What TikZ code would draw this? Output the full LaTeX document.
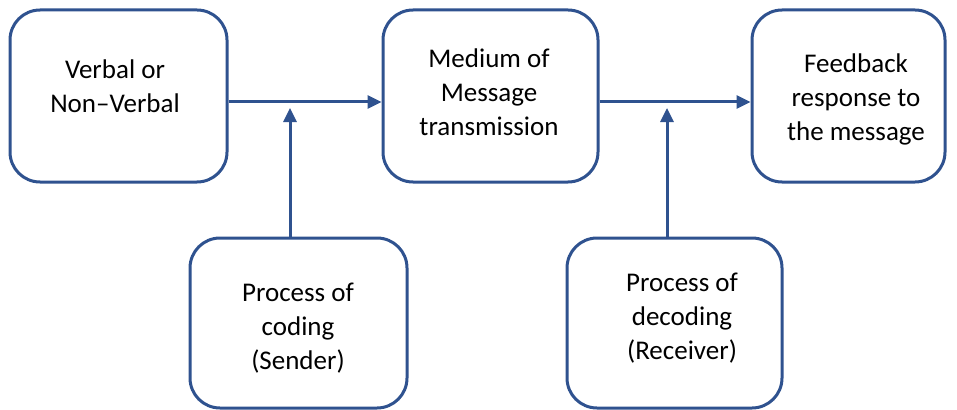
\documentclass[tikz,border=0pt]{standalone}
\usepackage{fontspec}
\setmainfont{Carlito}
\usetikzlibrary{arrows.meta}
\definecolor{boxblue}{RGB}{47,82,143}
\tikzset{
  stagebox/.style={draw=boxblue, line width=3pt, rounded corners=30pt, fill=white},
  stagetext/.style={align=center, font=\fontsize{27}{34}\selectfont, inner sep=0pt},
  flow/.style={draw=boxblue, line width=3pt, -{Triangle[length=14pt,width=13pt]}}
}
\begin{document}
\begin{tikzpicture}[x=1pt,y=-1pt]
  \useasboundingbox (0,0) rectangle (957,409);
  % stage boxes
  \node[stagebox, minimum width=217pt, minimum height=172pt] (b1) at (118.5,96) {};
  \node[stagebox, minimum width=215pt, minimum height=172pt] (b2) at (490.5,96) {};
  \node[stagebox, minimum width=193pt, minimum height=172pt] (b3) at (848.5,96) {};
  \node[stagebox, minimum width=217pt, minimum height=170pt] (b4) at (298.5,323) {};
  \node[stagebox, minimum width=215pt, minimum height=170pt] (b5) at (674.5,323) {};
  % box labels
  \node[stagetext] (t1) at (115,86) {Verbal or\\Non--Verbal};
  \node[stagetext] (t2) at (489,92) {Medium of\\Message\\transmission};
  \node[stagetext] (t3) at (856,99) {Feedback\\response to\\the message};
  \node[stagetext] (t4) at (298,328) {Process of\\coding\\(Sender)};
  \node[stagetext] (t5) at (682,318) {Process of\\decoding\\(Receiver)};
  % junction points on the horizontal flow lines
  \coordinate (j1) at (290,108);
  \coordinate (j2) at (667,108);
  % connectors
  \draw[flow] (b1.east |- 0,102) -- (b2.west |- 0,102);
  \draw[flow] (b2.east |- 0,102) -- (b3.west |- 0,102);
  \draw[flow] (b4.north -| j1) -- (j1);
  \draw[flow] (b5.north -| j2) -- (j2);
\end{tikzpicture}
\end{document}
